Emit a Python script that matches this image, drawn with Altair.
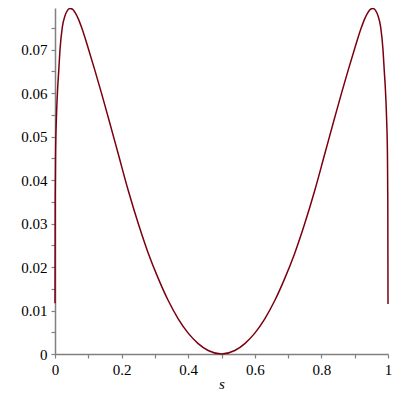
import altair as alt
import pandas as pd

s_left = [0.0, 0.0006, 0.0018, 0.0039, 0.008, 0.011, 0.015, 0.022, 0.030, 0.038,
          0.045, 0.053, 0.060, 0.070, 0.080, 0.100, 0.120, 0.140, 0.160, 0.190,
          0.220, 0.250, 0.280, 0.310, 0.340, 0.370, 0.400, 0.430, 0.460, 0.500]
v_left = [0.0117, 0.0352, 0.0466, 0.0535, 0.0612, 0.0649, 0.0700, 0.0752, 0.0778, 0.0791,
          0.0795, 0.0793, 0.0786, 0.0771, 0.0751, 0.0703, 0.0652, 0.0599, 0.0544, 0.0460,
          0.0376, 0.0300, 0.0232, 0.0174, 0.0123, 0.0081, 0.0048, 0.0024, 0.0008, 0.0]

s_right = [0.540, 0.570, 0.600, 0.630, 0.660, 0.690, 0.720, 0.750, 0.780, 0.810,
           0.840, 0.860, 0.880, 0.900, 0.920, 0.930, 0.940, 0.947, 0.955, 0.962,
           0.970, 0.978, 0.985, 0.989, 0.992, 0.9961, 0.9982, 0.9994, 1.0]
v_right = [0.0008, 0.0024, 0.0048, 0.0081, 0.0123, 0.0174, 0.0232, 0.0300, 0.0376, 0.0460,
           0.0544, 0.0599, 0.0652, 0.0703, 0.0751, 0.0771, 0.0786, 0.0793, 0.0795, 0.0791,
           0.0778, 0.0752, 0.0700, 0.0649, 0.0612, 0.0535, 0.0466, 0.0352, 0.0115]

x_ticks = [round(i * 0.1, 1) for i in range(11)]
y_ticks = [round(i * 0.005, 3) for i in range(16)]

df = pd.DataFrame({"s": s_left + s_right, "v": v_left + v_right})

x_label = "round(datum.value*10) % 2 == 0 ? (datum.value == 0 || datum.value == 1 ? format(datum.value, 'd') : format(datum.value, '.1f')) : ''"
y_label = "round(datum.value*1000) % 10 == 0 ? (datum.value == 0 ? '0' : format(datum.value, '.2f')) : ''"

axis_common = dict(
    grid=False,
    domainColor="#808080",
    domainWidth=1.5,
    tickColor="#808080",
    tickWidth=1.2,
    tickSize=4,
    labelFont="Liberation Serif",
    labelFontSize=15,
    labelColor="black",
    labelOverlap=False,
    labelFlush=False,
)

chart = alt.Chart(df).mark_line(color="#7a0010", strokeWidth=1.5, interpolate="monotone").encode(
    x=alt.X("s:Q", scale=alt.Scale(domain=[0, 1], nice=False, zero=False),
            axis=alt.Axis(values=x_ticks, labelExpr=x_label, title="s",
                          titleFont="Liberation Serif", titleFontStyle="italic",
                          titleFontWeight="normal", titleFontSize=15, titleColor="black",
                          titleY=34, titleBaseline="alphabetic",
                          labelPadding=4, **axis_common)),
    y=alt.Y("v:Q", scale=alt.Scale(domain=[0, 0.0796], nice=False),
            axis=alt.Axis(values=y_ticks, labelExpr=y_label, title=None,
                          labelPadding=4, **axis_common)),
).properties(
    width=333,
    height=346,
    autosize=alt.AutoSizeParams(type="none"),
    padding={"left": 47, "top": 0, "right": 4, "bottom": 36},
).configure_view(stroke=None)

chart.save("out.html", embed_options={"renderer": "svg", "actions": False})
